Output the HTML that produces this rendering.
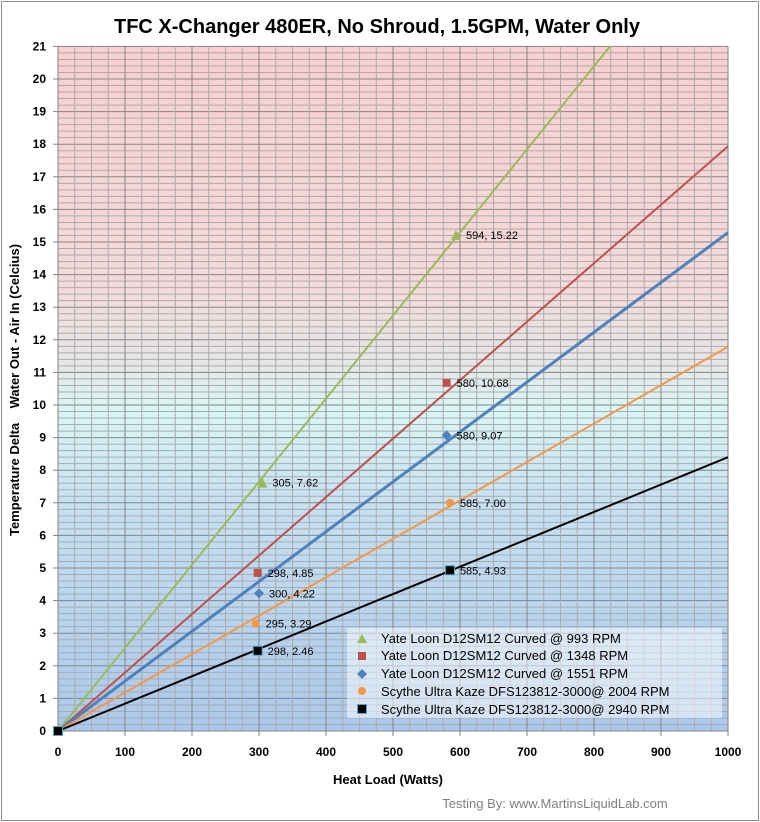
<!DOCTYPE html>
<html><head><meta charset="utf-8"><style>body{margin:0;background:#fff}svg{display:block;font-family:"Liberation Sans",sans-serif}</style></head><body>
<svg width="760" height="822" xmlns="http://www.w3.org/2000/svg">
<defs>
<linearGradient id="bg" x1="0" y1="0" x2="0" y2="1">
<stop offset="0" stop-color="#f9cfcf"/>
<stop offset="0.35" stop-color="#f4dada"/>
<stop offset="0.46" stop-color="#e6e6e6"/>
<stop offset="0.53" stop-color="#d8f5f5"/>
<stop offset="0.68" stop-color="#c4e0f2"/>
<stop offset="1" stop-color="#a9c8ec"/>
</linearGradient>
</defs>
<rect x="1.5" y="1.5" width="757" height="819" fill="#fff" stroke="#8c8c8c"/>
<text x="377" y="33" text-anchor="middle" font-size="20" font-weight="bold" fill="#000">TFC X-Changer 480ER, No Shroud, 1.5GPM, Water Only</text>
<rect x="58" y="46.4" width="670" height="684.6" fill="url(#bg)"/>
<g id="grid"></g>
<g stroke-width="2" fill="none">
<line x1="58" y1="731" x2="610" y2="46.4" stroke="#9bbb59"/>
<line x1="58" y1="731" x2="728" y2="146.3" stroke="#c0504d"/>
<line x1="58" y1="731" x2="728" y2="232.6" stroke="#4f81bd" stroke-width="3"/>
<line x1="58" y1="731" x2="728" y2="346.7" stroke="#f79646"/>
<line x1="58" y1="731" x2="728" y2="457.2" stroke="#000"/>
</g>
<g id="pts"></g>
<rect x="347" y="628" width="375" height="90" fill="#fff" fill-opacity="0.5"/>
<g font-size="13" fill="#000" xml:space="preserve">
<polygon points="357,643 362,634 367,643" fill="#9bbb59"/><text x="381" y="643">Yate Loon D12SM12  Curved @ 993 RPM</text>
<rect x="358" y="652" width="8" height="8" fill="#c0504d"/><text x="381" y="660">Yate Loon D12SM12  Curved @ 1348  RPM</text>
<polygon points="362,669 367,674 362,679 357,674" fill="#4f81bd"/><text x="381" y="678">Yate Loon D12SM12  Curved @ 1551  RPM</text>
<circle cx="362" cy="691" r="4" fill="#f79646"/><text x="381" y="696">Scythe Ultra Kaze DFS123812-3000@   2004  RPM</text>
<rect x="357.5" y="704.5" width="9" height="9" fill="#000" stroke="#4aacc6"/><text x="381" y="714">Scythe Ultra Kaze DFS123812-3000@   2940  RPM</text>
</g>
<g id="ticks" font-size="12" font-weight="bold"></g>
<text x="388" y="784" text-anchor="middle" font-size="13" font-weight="bold">Heat Load (Watts)</text>
<text transform="translate(19,390) rotate(-90)" text-anchor="middle" font-size="13" font-weight="bold" xml:space="preserve">Temperature Delta    Water Out - Air In (Celcius)</text>
<text x="555" y="808" text-anchor="middle" font-size="13" fill="#7f7f7f">Testing By: www.MartinsLiquidLab.com</text>
</svg>
<script>
var ns="http://www.w3.org/2000/svg";
function el(p,t,a,txt){var e=document.createElementNS(ns,t);for(var k in a)e.setAttribute(k,a[k]);if(txt!==undefined)e.textContent=txt;p.appendChild(e);return e;}
var X=function(w){return 58+w*0.67},Y=function(v){return 731-v*32.6};
var g=document.getElementById('grid');
for(var i=0;i<=105;i++){var y=Y(i*0.2);var maj=i%5==0;el(g,'line',{x1:58,x2:728,y1:y,y2:y,stroke:maj?'#858585':'#ababab','stroke-width':1});}
for(var i=0;i<=40;i++){var x=X(i*25);var maj=i%4==0;el(g,'line',{x1:x,x2:x,y1:46.4,y2:731,stroke:maj?'#858585':'#ababab','stroke-width':1});}
el(g,'line',{x1:58,x2:58,y1:46.4,y2:736,stroke:'#858585'});
el(g,'line',{x1:53,x2:728,y1:731,y2:731,stroke:'#858585'});
var t=document.getElementById('ticks');
for(var i=0;i<=21;i++){el(g,'line',{x1:53,x2:58,y1:Y(i),y2:Y(i),stroke:'#858585'});el(t,'text',{x:46,y:Y(i)+4,'text-anchor':'end'},i);}
for(var i=0;i<=10;i++){el(g,'line',{x1:X(i*100),x2:X(i*100),y1:731,y2:736,stroke:'#858585'});el(t,'text',{x:X(i*100),y:756,'text-anchor':'middle'},i*100);}
var p=document.getElementById('pts');
var d=[['tri','#9bbb59',305,7.62,'305, 7.62'],['tri','#9bbb59',594,15.22,'594, 15.22'],['sq','#c0504d',298,4.85,'298, 4.85'],['sq','#c0504d',580,10.68,'580, 10.68'],['dia','#4f81bd',300,4.22,'300, 4.22'],['dia','#4f81bd',580,9.07,'580, 9.07'],['c','#f79646',295,3.29,'295, 3.29'],['c','#f79646',585,7.00,'585, 7.00'],['bk','#000',298,2.46,'298, 2.46'],['bk','#000',585,4.93,'585, 4.93'],['bk','#000',0,0,'']];
d.forEach(function(a){var x=X(a[2]),y=Y(a[3]);
if(a[0]=='tri')el(p,'polygon',{points:(x-5)+','+(y+5)+' '+x+','+(y-5)+' '+(x+5)+','+(y+5),fill:a[1]});
if(a[0]=='sq')el(p,'rect',{x:x-4,y:y-4,width:8,height:8,fill:a[1]});
if(a[0]=='dia')el(p,'polygon',{points:x+','+(y-5)+' '+(x+5)+','+y+' '+x+','+(y+5)+' '+(x-5)+','+y,fill:a[1]});
if(a[0]=='c')el(p,'circle',{cx:x,cy:y,r:4,fill:a[1]});
if(a[0]=='bk')el(p,'rect',{x:x-4.5,y:y-4.5,width:9,height:9,fill:'#000',stroke:'#4aacc6'});
if(a[4])el(p,'text',{x:x+10,y:y+4,'font-size':11},a[4]);});
</script>
</body></html>
